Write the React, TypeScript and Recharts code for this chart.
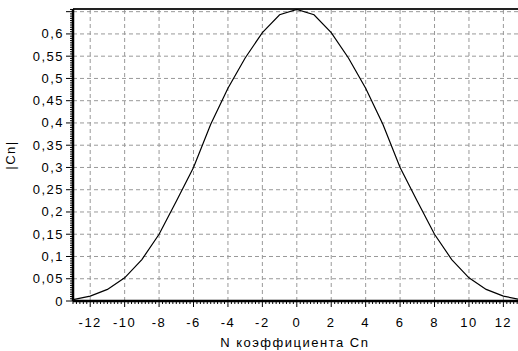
import React from 'react';
import { LineChart, Line, XAxis, YAxis, ReferenceLine, Label } from 'recharts';

// Coefficient index N and magnitude |Cn|
const nValues = [-13, -12, -11, -10, -9, -8, -7, -6, -5, -4, -3, -2, -1, 0, 1, 2, 3, 4, 5, 6, 7, 8, 9, 10, 11, 12, 13];
const cnValues = [0.003, 0.011, 0.026, 0.052, 0.093, 0.150, 0.224, 0.300, 0.397, 0.478, 0.546, 0.603, 0.643, 0.655, 0.643, 0.603, 0.546, 0.478, 0.397, 0.300, 0.224, 0.150, 0.093, 0.052, 0.026, 0.011, 0.003];

const xMajorTicks = [-12, -10, -8, -6, -4, -2, 0, 2, 4, 6, 8, 10, 12];
const yLabelTicks = [0, 0.05, 0.1, 0.15, 0.2, 0.25, 0.3, 0.35, 0.4, 0.45, 0.5, 0.55, 0.6];
const yGridLines = [0.05, 0.1, 0.15, 0.2, 0.25, 0.3, 0.35, 0.4, 0.45, 0.5, 0.55, 0.6, 0.65];

const xDomain: [number, number] = [-13, 13];
const yDomain: [number, number] = [0, 0.656];

const xTitle = 'N коэффициента Cn';
const yTitle = '|Cn|';

const data = nValues.map((n, i) => ({ n, cn: cnValues[i] }));

// minor tick positions (every 0.2 on x, every 0.005 on y)
const xMinorTicks: number[] = [];
for (let i = -65; i <= 65; i++) xMinorTicks.push(Math.round(i * 2) / 10);
const yMinorTicks: number[] = [];
for (let i = 0; i <= 131; i++) yMinorTicks.push(Math.round(i * 5) / 1000);

const FONT = '"Liberation Sans", Arial, sans-serif';
const textStyle: React.CSSProperties = { letterSpacing: '1.5px' };

const fmtY = (v: number) => (v === 0 ? '0' : String(v).replace('.', ','));

const XTick = (props: any) => {
  const { x, y, payload } = props;
  const v = payload.value as number;
  const isInt = Math.abs(v - Math.round(v)) < 1e-6;
  const major = isInt && xMajorTicks.includes(Math.round(v));
  return (
    <g>
      <line x1={x} x2={x} y1={y} y2={y + (major ? 6 : 3)} stroke="#000" strokeWidth={1} />
      {major && (
        <text x={x} y={y + 25.5} textAnchor="middle" fontFamily={FONT} fontSize={13} fill="#000" style={textStyle}>
          {String(Math.round(v))}
        </text>
      )}
    </g>
  );
};

const YTick = (props: any) => {
  const { x, y, payload } = props;
  const v = payload.value as number;
  const major = Math.round(v * 1000) % 50 === 0;
  const labelled = yLabelTicks.some((t) => Math.abs(t - v) < 1e-6);
  return (
    <g>
      <line x1={x - (major ? 7 : 3)} x2={x} y1={y} y2={y} stroke="#000" strokeWidth={1} />
      {labelled && (
        <text x={x - 9} y={y + 4.5} textAnchor="end" fontFamily={FONT} fontSize={13} fill="#000" style={textStyle}>
          {fmtY(v)}
        </text>
      )}
    </g>
  );
};

export default function App() {
  return (
    <div style={{ position: 'absolute', left: 0, top: 0, width: 518, height: 351, overflow: 'hidden', background: '#fff' }}>
      <LineChart width={530} height={351} data={data} margin={{ top: 9, right: 9.4, bottom: 0, left: 0 }}>
        <XAxis
          dataKey="n"
          type="number"
          domain={xDomain}
          ticks={xMinorTicks}
          interval={0}
          tickSize={0}
          tickMargin={0}
          tickLine={false}
          tick={<XTick />}
          axisLine={{ stroke: '#000', strokeWidth: 2.5 }}
          height={50}
          allowDataOverflow
        >
          <Label
            content={(p: any) => {
              const vb = p.viewBox;
              return (
                <text x={vb.x + vb.width / 2 - 2} y={vb.y + 45.5} textAnchor="middle" fontFamily={FONT} fontSize={13} fill="#000" style={textStyle}>
                  {xTitle}
                </text>
              );
            }}
          />
        </XAxis>
        <YAxis
          type="number"
          domain={yDomain}
          ticks={yMinorTicks}
          interval={0}
          tickSize={0}
          tickMargin={0}
          tickLine={false}
          tick={<YTick />}
          axisLine={{ stroke: '#000', strokeWidth: 2.5 }}
          width={73}
          allowDataOverflow
        >
          <Label
            content={(p: any) => {
              const vb = p.viewBox;
              const cx = vb.x + 15;
              const cy = vb.y + vb.height / 2;
              return (
                <text x={cx} y={cy} transform={`rotate(-90, ${cx}, ${cy})`} textAnchor="middle" fontFamily={FONT} fontSize={13} fill="#000" style={textStyle}>
                  {yTitle}
                </text>
              );
            }}
          />
        </YAxis>
        {xMajorTicks.map((v) => (
          <ReferenceLine key={'vx' + v} x={v} stroke="#999" strokeDasharray="4 3" strokeWidth={1} />
        ))}
        {yGridLines.map((v) => (
          <ReferenceLine key={'hy' + v} y={v} stroke="#999" strokeDasharray="4 3" strokeWidth={1} />
        ))}
        <ReferenceLine y={yDomain[1]} stroke="#222" strokeWidth={2} />
        <Line type="linear" dataKey="cn" stroke="#000" strokeWidth={1.2} dot={false} isAnimationActive={false} />
      </LineChart>
    </div>
  );
}
